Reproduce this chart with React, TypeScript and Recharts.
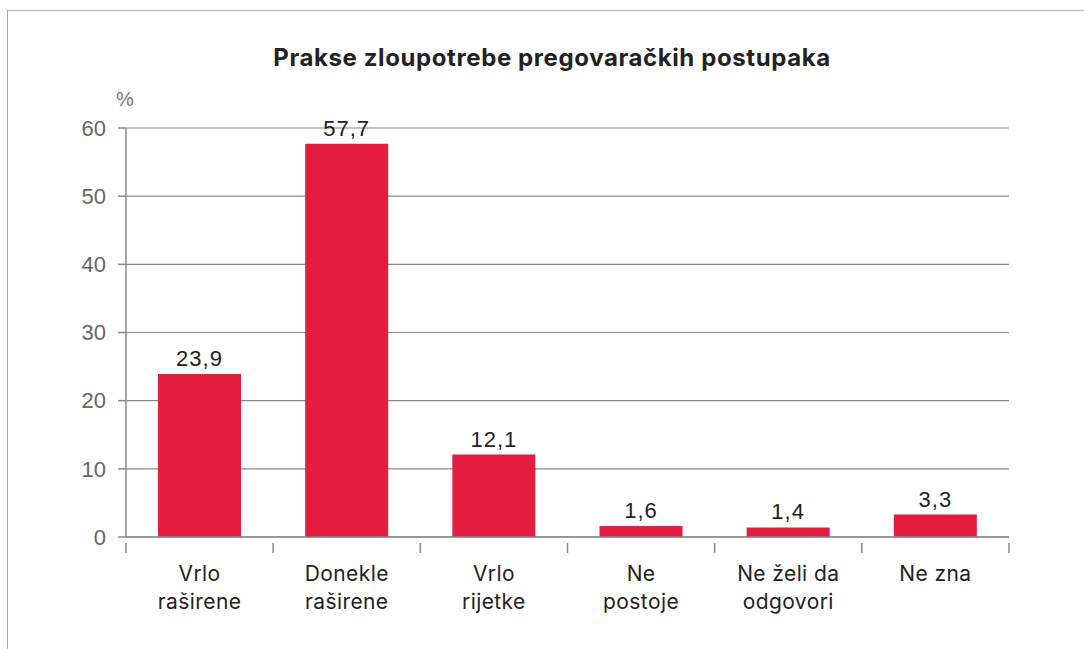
import { BarChart, Bar, XAxis, YAxis, CartesianGrid, LabelList } from 'recharts'

const categories = ['Vrlo|raširene', 'Donekle|raširene', 'Vrlo|rijetke', 'Ne|postoje', 'Ne želi da|odgovori', 'Ne zna']
const values = [23.9, 57.7, 12.1, 1.6, 1.4, 3.3]
const yTicks = [0, 10, 20, 30, 40, 50, 60]

const data = categories.map((c, i) => ({ name: c, value: values[i] }))

const W = 1084
const H = 649
const M = { top: 128, right: 75, left: 0, bottom: 0 }
const Y_AXIS_W = 126
const BAND = (W - M.left - M.right - Y_AXIS_W) / categories.length

const CategoryTick = (props: any) => {
  const { x, y, payload, index } = props
  const lines = String(payload.value).split('|')
  const left = x - BAND / 2
  const right = x + BAND / 2
  return (
    <g>
      <line x1={left} y1={y - 2} x2={left} y2={y + 8} stroke="#888" strokeWidth={1.5} />
      {index === categories.length - 1 && (
        <line x1={right} y1={y - 2} x2={right} y2={y + 8} stroke="#888" strokeWidth={1.5} />
      )}
      <text x={x} y={y + 36} textAnchor="middle" fill="#222" fontSize={21} letterSpacing={0.4} fontFamily="Inter, 'Noto Sans', sans-serif">
        {lines.map((l, i) => (
          <tspan key={i} x={x} dy={i === 0 ? 0 : 28}>{l}</tspan>
        ))}
      </text>
    </g>
  )
}

export default function App() {
  return (
    <div style={{ position: 'fixed', left: 0, top: 0, width: W, height: H, background: '#fff', overflow: 'hidden' }}>
      <div style={{ position: 'absolute', left: 7, top: 10, width: W + 20, height: H + 20, border: '1.5px solid #aaa' }} />
      <div style={{ position: 'absolute', left: 0, top: 43, width: 1104, textAlign: 'center', fontFamily: 'Inter, sans-serif', fontWeight: 700, fontSize: 24, letterSpacing: 0.6, color: '#222' }}>
        Prakse zloupotrebe pregovaračkih postupaka
      </div>
      <div style={{ position: 'absolute', left: 116, top: 88, fontFamily: "'Liberation Sans', Arial, sans-serif", fontSize: 20, color: '#777' }}>%</div>
      <div style={{ position: 'absolute', left: 0, top: 0 }}>
        <BarChart width={W} height={H} data={data} margin={M}>
          <CartesianGrid vertical={false} stroke="#888" strokeWidth={1.2} />
          <XAxis
            dataKey="name"
            height={112}
            interval={0}
            tickLine={false}
            axisLine={{ stroke: '#888', strokeWidth: 1.5 }}
            tick={<CategoryTick />}
          />
          <YAxis
            width={Y_AXIS_W}
            domain={[0, 60]}
            ticks={yTicks}
            tickSize={8}
            tickMargin={12}
            axisLine={{ stroke: '#888', strokeWidth: 1.5 }}
            tickLine={{ stroke: '#888', strokeWidth: 1.5 }}
            tick={{ fill: '#666', fontSize: 22, fontFamily: "'Liberation Sans', Arial, sans-serif" }}
          />
          <Bar dataKey="value" fill="#E31C40" barSize={83} isAnimationActive={false}>
            <LabelList
              dataKey="value"
              position="top"
              offset={8}
              formatter={(v: any) => String(v).replace('.', ',')}
              style={{ fill: '#222', fontSize: 22, letterSpacing: 1, fontFamily: "'Liberation Sans', Arial, sans-serif" }}
            />
          </Bar>
        </BarChart>
      </div>
    </div>
  )
}
